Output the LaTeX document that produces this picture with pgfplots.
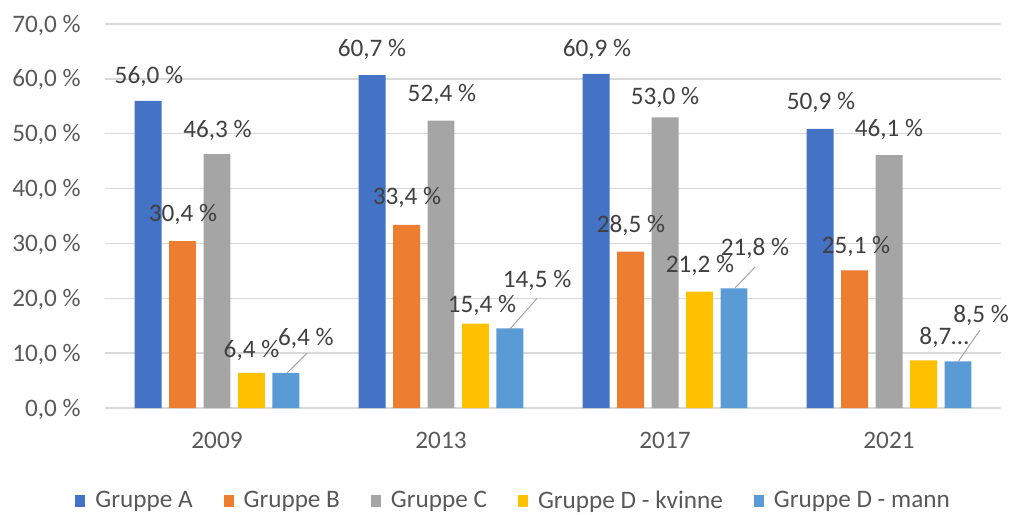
\documentclass[border=0pt]{standalone}
\usepackage{pgfplots}
\pgfplotsset{compat=1.18}
\usepackage{fontspec}
\setmainfont{Carlito}
\definecolor{cA}{HTML}{4472C4}
\definecolor{cB}{HTML}{ED7D31}
\definecolor{cC}{HTML}{A5A5A5}
\definecolor{cD}{HTML}{FFC000}
\definecolor{cE}{HTML}{5B9BD5}
\definecolor{txt}{HTML}{595959}
\definecolor{lbl}{HTML}{404040}
\definecolor{gridc}{HTML}{D9D9D9}
\newcommand{\fs}{\fontsize{12.6}{15}\selectfont}
\begin{document}
\begin{tikzpicture}[/tikz/dl/.style={anchor=base, inner sep=0pt, yshift=-4pt, text=lbl, font=\fs}]
\begin{axis}[
  name=ax,
  scale only axis, width=448pt, height=192pt,
  xmin=-0.5, xmax=3.5, ymin=0, ymax=70,
  enlargelimits=false, clip=false,
  ytick={0,10,...,70},
  yticklabels={{0,0~\%},{10,0~\%},{20,0~\%},{30,0~\%},{40,0~\%},{50,0~\%},{60,0~\%},{70,0~\%}},
  xtick={0,1,2,3}, xticklabels={2009,2013,2017,2021},
  axis line style={draw=none},
  major tick length=0pt,
  ymajorgrids, major grid style={draw=gridc, line width=0.7pt},
  tick label style={font=\fs, text=txt},
  yticklabel style={anchor=base east, inner sep=0pt, xshift=-12pt, yshift=-4pt},
  xticklabel style={anchor=base, inner sep=0pt, yshift=-20pt},
  ybar, bar width=0.1205,
  sq/.style={legend image code/.code={\fill[##1] (0pt,-3pt) rectangle (5pt,3pt);}},
  legend style={at={(-0.0335,-0.242)}, anchor=west, draw=none, fill=none,
    inner sep=0pt, font=\fs, text=txt,
    nodes={inner sep=0pt},
    /tikz/every odd column/.append style={column sep=5pt},
    /tikz/every even column/.append style={column sep=15.5pt}},
  legend columns=5,
]
\addplot[fill=cA, draw=none, bar shift=-0.308, sq] coordinates {(0,56.0) (1,60.7) (2,60.9) (3,50.9)};
\addplot[fill=cB, draw=none, bar shift=-0.154, sq] coordinates {(0,30.4) (1,33.4) (2,28.5) (3,25.1)};
\addplot[fill=cC, draw=none, bar shift=0, sq] coordinates {(0,46.3) (1,52.4) (2,53.0) (3,46.1)};
\addplot[fill=cD, draw=none, bar shift=0.154, sq] coordinates {(0,6.4) (1,15.4) (2,21.2) (3,8.7)};
\addplot[fill=cE, draw=none, bar shift=0.308, sq] coordinates {(0,6.4) (1,14.5) (2,21.8) (3,8.5)};
\legend{Gruppe A, Gruppe B, Gruppe C, Gruppe D - kvinne, Gruppe D - mann}
% leader lines
\draw[color=cC, line width=0.5pt] (axis cs:0.313,6.4) -- (axis cs:0.402,10.0);
\draw[color=cC, line width=0.5pt] (axis cs:1.308,14.4) -- (axis cs:1.429,20.0);
\draw[color=cC, line width=0.5pt] (axis cs:2.313,21.9) -- (axis cs:2.402,25.7);
\draw[color=cC, line width=0.5pt] (axis cs:3.308,8.4) -- (axis cs:3.406,14.2);
% data labels
\node[dl] at (axis cs:-0.304,60.7) {56,0~\%};
\node[dl] at (axis cs:-0.152,35.5) {30,4~\%};
\node[dl] at (axis cs:0.002,50.8) {46,3~\%};
\node[dl] at (axis cs:0.154,10.7) {6,4~\%};
\node[dl] at (axis cs:0.397,12.9) {6,4~\%};
\node[dl] at (axis cs:0.692,65.5) {60,7~\%};
\node[dl] at (axis cs:0.848,38.6) {33,4~\%};
\node[dl] at (axis cs:1.004,57.3) {52,4~\%};
\node[dl] at (axis cs:1.183,18.8) {15,4~\%};
\node[dl] at (axis cs:1.429,23.4) {14,5~\%};
\node[dl] at (axis cs:1.696,65.5) {60,9~\%};
\node[dl] at (axis cs:1.848,33.4) {28,5~\%};
\node[dl] at (axis cs:2.0,56.7) {53,0~\%};
\node[dl] at (axis cs:2.156,26.2) {21,2~\%};
\node[dl] at (axis cs:2.402,29.3) {21,8~\%};
\node[dl] at (axis cs:2.696,55.9) {50,9~\%};
\node[dl] at (axis cs:2.853,29.7) {25,1~\%};
\node[dl] at (axis cs:3.0,50.9) {46,1~\%};
\node[dl] at (axis cs:3.246,13.1) {8,7…};
\node[dl] at (axis cs:3.411,17.0) {8,5~\%};
\end{axis}
\path (ax.south west) ++(-52.5pt,-53pt) rectangle ++(505.5pt,257pt);
\end{tikzpicture}
\end{document}
